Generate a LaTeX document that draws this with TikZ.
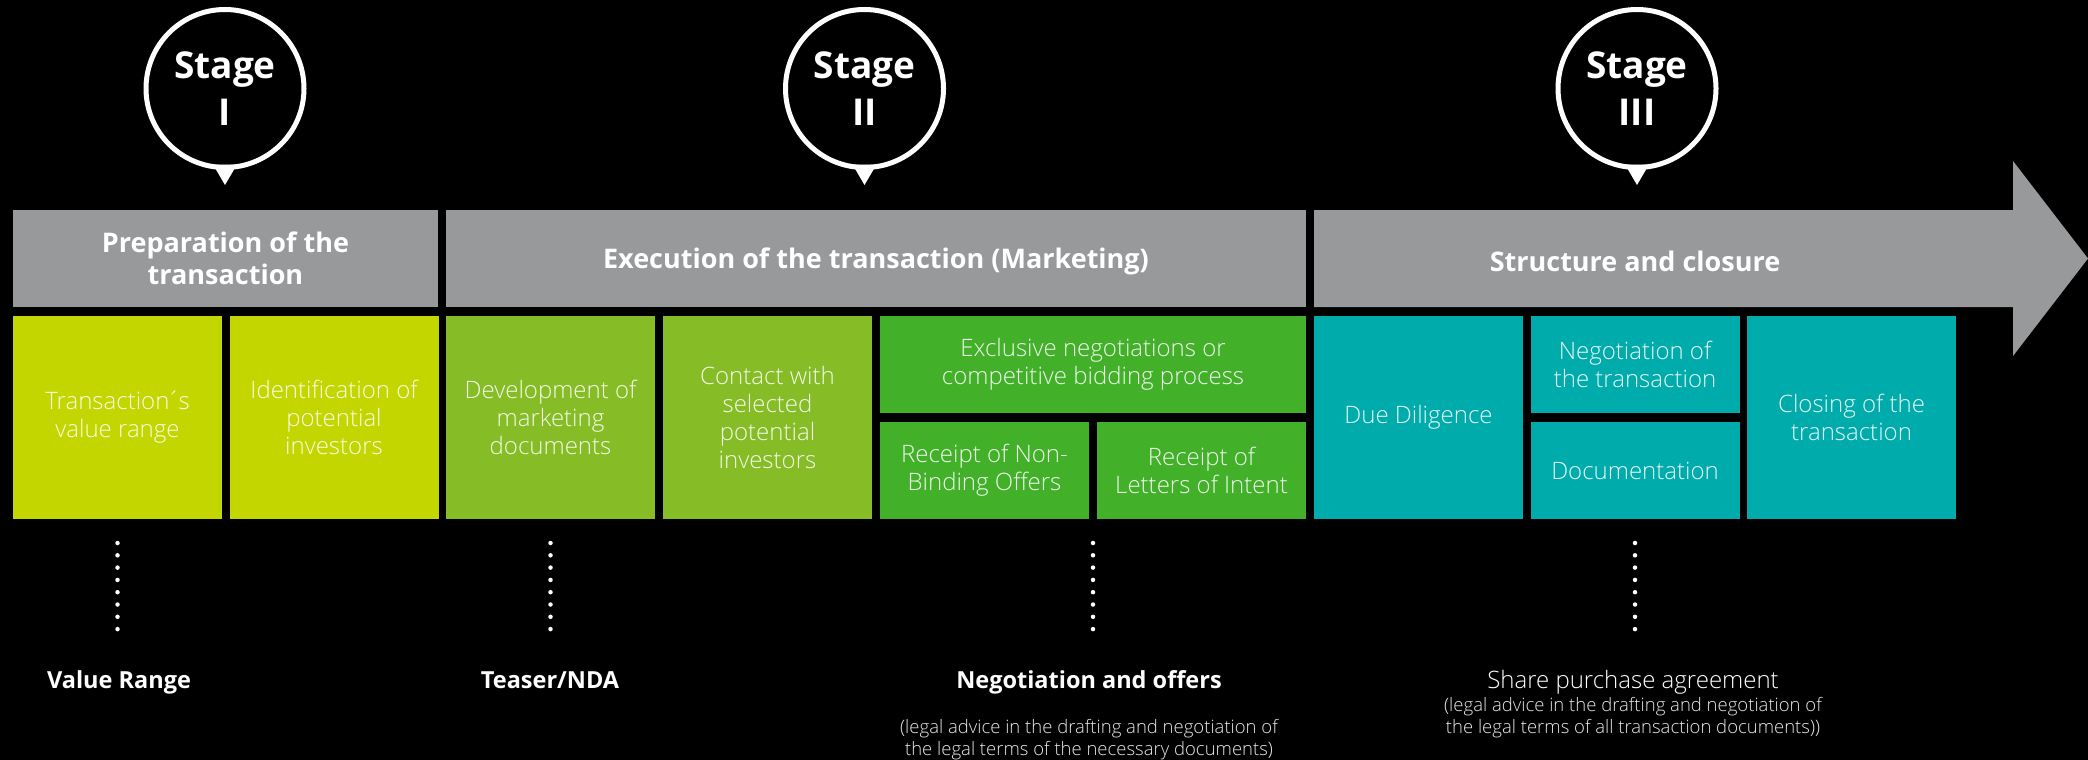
\documentclass[tikz,border=0pt]{standalone}
\usepackage{fontspec}
\setmainfont{Open Sans}
\newfontfamily\lightfont{Open Sans Light}
\usetikzlibrary{calc}

\definecolor{bargray}{HTML}{97999B}
\definecolor{limegreen}{HTML}{C4D600}
\definecolor{leafgreen}{HTML}{86BC25}
\definecolor{deepgreen}{HTML}{43B02A}
\definecolor{tealblue}{HTML}{00ABAB}

\begin{document}
\begin{tikzpicture}
  [x=1pt, y=-1pt,
    every node/.style={inner sep=0pt, outer sep=0pt, text=white},
    stage/.style={circle, draw=white, line width=5pt, minimum size=158pt, align=center,
      font=\fontsize{37}{47}\selectfont\bfseries},
    bar/.style={fill=bargray, minimum height=97pt, align=center,
      font=\fontsize{27}{32}\selectfont\bfseries},
    tallbox/.style={minimum width=209pt, minimum height=203pt, align=center,
      font=\lightfont\fontsize{24}{28}\selectfont, text opacity=0.9},
    halfbox/.style={tallbox, minimum height=97pt},
    dotline/.style={white, line width=4.5pt, line cap=round, dash pattern=on 0pt off 12.3pt},
    tag/.style={anchor=base, font=\fontsize{23.5}{28}\selectfont\bfseries},
    note/.style={anchor=base, align=center, text opacity=0.9, font=\lightfont\fontsize{18.5}{21.5}\selectfont},
  ]

  \fill[black] (0,0) rectangle (2088,760);
  \useasboundingbox (0,0) rectangle (2088,760);

  \node[stage] (s1) at (225,88.5) {Stage\\I};
  \node[stage] (s2) at (864.5,88.5) {Stage\\II};
  \node[stage] (s3) at (1637,88.5) {Stage\\III};
  \fill[white] ($(s1.south)+(-12,-3)$) -- ($(s1.south)+(12,-3)$) -- ($(s1.south)+(0,17.5)$) -- cycle;
  \fill[white] ($(s2.south)+(-12,-3)$) -- ($(s2.south)+(12,-3)$) -- ($(s2.south)+(0,17.5)$) -- cycle;
  \fill[white] ($(s3.south)+(-12,-3)$) -- ($(s3.south)+(12,-3)$) -- ($(s3.south)+(0,17.5)$) -- cycle;

  \node[bar, minimum width=425pt] (prep) at (225.5,258.5) {Preparation of the\\transaction};
  \node[bar, minimum width=860pt, text depth=0pt] (exec) at (876,258.5) {Execution of the transaction (Marketing)};
  \fill[bargray] (1314,210) -- (2013,210) -- (2013,161) -- (2088,258.5)
    -- (2013,356) -- (2013,307) -- (1314,307) -- cycle;
  \node[font=\fontsize{27}{32}\selectfont\bfseries] (close) at (1635,261) {Structure and closure};

  \node[tallbox, fill=limegreen] (tvr) at (117.5,417.5) {Transaction\kern-0.12em´\kern-0.08em s\\value range};
  \node[tallbox, fill=limegreen] (ipi) at (334,417.5) {Identification of\\potential\\investors};
  \node[tallbox, fill=leafgreen] (dmd) at (550.5,417.5) {Development of\\marketing\\documents};
  \node[tallbox, fill=leafgreen] (csp) at (767.5,417.5) {Contact with\\selected\\potential\\investors};
  \node[halfbox, fill=deepgreen, minimum width=426pt] (excl) at (1093,364.5)
    {Exclusive negotiations or\\competitive bidding process};
  \node[halfbox, fill=deepgreen] (nbo) at (984.5,470.5) {Receipt of Non-\\Binding Offers};
  \node[halfbox, fill=deepgreen] (loi) at (1201.5,470.5) {Receipt of\\Letters of Intent};
  \node[tallbox, fill=tealblue] (dd) at (1418.5,417.5) {Due Diligence};
  \node[halfbox, fill=tealblue] (nego) at (1635,364.5) {Negotiation of\\the transaction};
  \node[halfbox, fill=tealblue] (docs) at (1635,470.5) {Documentation};
  \node[tallbox, fill=tealblue] (closing) at (1851.5,417.5) {Closing of the\\transaction};

  \node[tag] (vr) at (119,688) {Value Range};
  \node[tag] (nda) at (550,688) {Teaser/NDA};
  \node[tag] (offers) at (1089,688) {Negotiation and offers};
  \node[note] (offersnote) at (1089,755)
    {(legal advice in the drafting and negotiation of\\the legal terms of the necessary documents)};
  \node[anchor=base, font=\lightfont\fontsize{24}{28}\selectfont] (spa) at (1633,688) {Share purchase agreement};
  \node[note] (spanote) at (1633,733)
    {(legal advice in the drafting and negotiation of\\the legal terms of all transaction documents))};

  \draw[dotline] ([yshift=-24pt]tvr.south) -- ([yshift=58pt]tvr.south |- vr.base);
  \draw[dotline] ([yshift=-24pt]dmd.south) -- ([yshift=58pt]dmd.south |- nda.base);
  \draw[dotline] ([yshift=-24pt]excl.south |- nbo.south) -- ([yshift=58pt]excl.south |- offers.base);
  \draw[dotline] ([yshift=-24pt]docs.south) -- ([yshift=58pt]docs.south |- spa.base);
\end{tikzpicture}
\end{document}
